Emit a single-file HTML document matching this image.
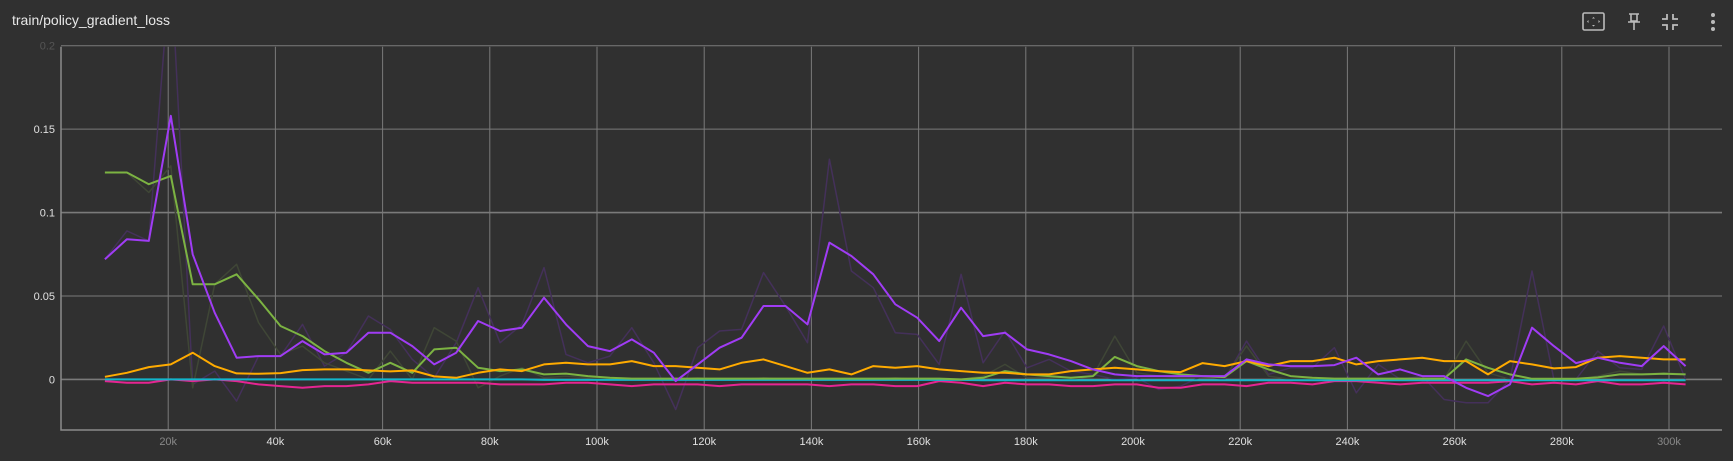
<!DOCTYPE html>
<html><head><meta charset="utf-8"><style>
html,body{margin:0;padding:0;background:#303030;}
body{width:1733px;height:461px;overflow:hidden;position:relative;font-family:"Liberation Sans",sans-serif;}
#title{position:absolute;left:12px;top:12px;color:#e8e8e8;font-size:14px;}
.ic{position:absolute;top:10px;}
</style></head><body>
<div id="title">train/policy_gradient_loss</div>
<svg class="ic" style="left:1581px" width="26" height="24"><rect x="2" y="3" width="21" height="17" rx="1.5" fill="none" stroke="#bbb" stroke-width="1.6"/><path d="M12.5 7l-1.5 1.5h3zM12.5 16.5l-1.5-1.5h3zM6 11.5l1.5-1.5v3zM19 11.5l-1.5-1.5v3z" fill="#bbb"/></svg>
<svg class="ic" style="left:1625px" width="18" height="24"><path d="M4 4h10M6 4v7h6V4M3 12h12M9 12v8" stroke="#bbb" stroke-width="1.6" fill="none"/></svg>
<svg class="ic" style="left:1660px" width="20" height="24"><path d="M7 4v5H2M13 4v5h5M7 20v-5H2M13 20v-5h5" stroke="#bbb" stroke-width="1.8" fill="none"/></svg>
<svg class="ic" style="left:1708px" width="10" height="24"><circle cx="5" cy="5" r="2" fill="#bbb"/><circle cx="5" cy="12" r="2" fill="#bbb"/><circle cx="5" cy="19" r="2" fill="#bbb"/></svg>
<svg id="chart" width="1733" height="461" style="position:absolute;left:0;top:0"></svg>
<script>
const xTicks=[20,40,60,80,100,120,140,160,180,200,220,240,260,280,300];
const yTicks=[0,0.05,0.1,0.15,0.2];
const yTickLabels=["0","0.05","0.1","0.15","0.2"];
const steps=[];for(let i=0;i<73;i++)steps.push(8.192+4.096*i);
const purple=[0.072,0.084,0.083,0.158,0.075,0.040,0.013,0.014,0.014,0.023,0.015,0.016,0.028,0.028,0.020,0.009,0.016,0.035,0.029,0.031,0.049,0.033,0.020,0.017,0.024,0.016,-0.001,0.009,0.019,0.025,0.044,0.044,0.033,0.082,0.074,0.063,0.045,0.037,0.023,0.043,0.026,0.028,0.018,0.015,0.011,0.006,0.003,0.002,0.002,0.002,0.002,0.002,0.012,0.009,0.008,0.008,0.0086,0.013,0.003,0.006,0.002,0.002,-0.005,-0.010,-0.003,0.031,0.020,0.0098,0.013,0.010,0.008,0.020,0.008];
const purpleRaw=[0.072,0.089,0.083,0.25,-0.003,0.005,-0.013,0.014,0.014,0.033,0.008,0.016,0.038,0.030,0.012,0.001,0.022,0.055,0.022,0.033,0.067,0.015,0.010,0.014,0.031,0.010,-0.018,0.019,0.029,0.030,0.064,0.044,0.022,0.132,0.065,0.055,0.028,0.027,0.009,0.063,0.010,0.029,0.007,0.012,0.005,0.003,0.000,0.001,-0.006,-0.004,0.002,0.000,0.023,0.003,0.007,0.007,0.019,-0.008,0.009,0.000,0.002,-0.012,-0.014,-0.014,0.000,0.065,0.000,0.000,0.017,0.007,0.006,0.032,0.000];
const green=[0.124,0.124,0.117,0.122,0.057,0.057,0.063,0.048,0.032,0.026,0.017,0.010,0.004,0.010,0.004,0.018,0.019,0.007,0.005,0.006,0.003,0.0035,0.002,0.001,0.0005,0.0005,0.0005,0.0005,0.0005,0.0005,0.0005,0.0005,0.0005,0.0005,0.0005,0.0005,0.0005,0.0005,0.0005,0.0,0.001,0.005,0.003,0.002,0.001,0.002,0.0135,0.008,0.005,0.003,0.002,0.0014,0.011,0.006,0.002,0.001,0.0005,0.0005,0.0005,0.0005,0.0005,0.0005,0.012,0.007,0.003,0.0004,0.0004,0.0004,0.0012,0.003,0.003,0.0034,0.003];
const greenRaw=[0.124,0.124,0.112,0.128,-0.005,0.057,0.069,0.034,0.015,0.020,0.010,0.005,0.000,0.017,0.000,0.031,0.023,-0.005,0.002,0.007,0.001,0.002,0.001,0.000,0.000,0.000,0.000,0.001,0.000,0.000,0.001,0.000,0.000,0.000,0.000,0.000,0.001,0.000,0.000,0.000,0.002,0.009,0.001,0.001,0.000,0.002,0.026,0.004,0.002,0.001,0.001,0.001,0.020,0.002,0.000,0.000,0.000,0.000,0.000,0.000,0.000,0.000,0.023,0.004,0.000,0.000,0.000,0.000,0.002,0.005,0.003,0.004,0.003];
const orange=[0.0016,0.004,0.0074,0.009,0.016,0.008,0.0036,0.0034,0.0038,0.0056,0.006,0.006,0.0054,0.0048,0.0054,0.0018,0.001,0.004,0.006,0.005,0.009,0.010,0.009,0.009,0.011,0.008,0.008,0.007,0.006,0.010,0.012,0.008,0.004,0.006,0.003,0.008,0.007,0.008,0.006,0.005,0.004,0.004,0.003,0.003,0.005,0.006,0.007,0.006,0.005,0.0044,0.0098,0.008,0.011,0.008,0.011,0.011,0.013,0.009,0.011,0.012,0.013,0.011,0.011,0.003,0.011,0.009,0.0066,0.0074,0.013,0.014,0.013,0.012,0.012];
const pink=[-0.001,-0.002,-0.002,0.000,-0.001,0.000,-0.001,-0.003,-0.004,-0.005,-0.004,-0.004,-0.003,-0.001,-0.002,-0.002,-0.002,-0.002,-0.003,-0.003,-0.003,-0.002,-0.002,-0.003,-0.004,-0.003,-0.003,-0.003,-0.004,-0.003,-0.003,-0.003,-0.003,-0.004,-0.003,-0.003,-0.004,-0.004,-0.001,-0.002,-0.004,-0.002,-0.003,-0.003,-0.004,-0.004,-0.003,-0.003,-0.005,-0.005,-0.003,-0.003,-0.004,-0.002,-0.002,-0.003,-0.001,-0.001,-0.002,-0.003,-0.002,-0.002,-0.002,-0.002,-0.001,-0.003,-0.002,-0.003,-0.001,-0.003,-0.003,-0.002,-0.003];
const cyan=[0,0,0,0,0,0,0,0,0,0,0,0,0,0,0,0,0,0,0,0,-0.0003,-0.0003,-0.0003,-0.0003,-0.0003,-0.0003,-0.0003,-0.0003,-0.0003,-0.0003,-0.0003,-0.0003,-0.0003,-0.0003,-0.0003,-0.0003,-0.0003,-0.0003,-0.0003,-0.0003,-0.0005,-0.0005,-0.0005,-0.0005,-0.0005,-0.0005,-0.0005,-0.0005,-0.0005,-0.0005,-0.0005,-0.0005,-0.0005,-0.0005,-0.0005,-0.0005,-0.0005,-0.0005,-0.0005,-0.0005,-0.0005,-0.0005,-0.0005,-0.0005,-0.0005,-0.0005,-0.0005,-0.0005,-0.0005,-0.0005,-0.0005,-0.0005,-0.0005];

const L=61,R=1722,T=46.7,B=430;
const xMin=0,xMax=(R-L)/107.2*20;
const yMin=-0.0303,yMax=0.1994;
const xs=v=>L+(v-xMin)/(xMax-xMin)*(R-L);
const ys=v=>B-(v-yMin)/(yMax-yMin)*(B-T);
const NS="http://www.w3.org/2000/svg";
const svg=document.getElementById('chart');
function mk(t,a){const e=document.createElementNS(NS,t);for(const k in a)e.setAttribute(k,a[k]);return e;}
const clip=mk('clipPath',{id:'pc'});clip.appendChild(mk('rect',{x:L,y:T,width:R-L,height:B-T}));svg.appendChild(clip);
yTicks.forEach((v,i)=>{
  const g=mk('line',{x1:L,x2:R,y1:ys(v),y2:ys(v),stroke:'#7a7a7a','stroke-width':(v===0||v===0.1)?1.6:1});
  
  
  svg.appendChild(g);
  const t=mk('text',{x:55,y:ys(v)+4,'text-anchor':'end','font-size':'11','font-family':'Liberation Sans, sans-serif',fill:i===4?'#555':'#e0e0e0'});
  t.textContent=yTickLabels[i];
  
  
  svg.appendChild(t);
});
xTicks.forEach((v,i)=>{
  const g=mk('line',{x1:xs(v),x2:xs(v),y1:T,y2:B,stroke:'#7a7a7a','stroke-width':1});
  
  
  svg.appendChild(g);
  const t=mk('text',{x:xs(v),y:445,'text-anchor':'middle','font-size':'11','font-family':'Liberation Sans, sans-serif',fill:(i===0||i===xTicks.length-1)?'#888':'#e0e0e0'});
  t.textContent=v+'k';
  
  
  svg.appendChild(t);
});
const ax=mk('path',{d:`M${L} ${T}V${B}H${R}`,stroke:'#8a8a8a','stroke-width':1.5,fill:'none'});


svg.appendChild(ax);
function line(arr,color,w,name){
  const d=arr.map((v,i)=>(i?'L':'M')+xs(steps[i]).toFixed(1)+' '+ys(v).toFixed(1)).join('');
  const p=mk('path',{d:d,stroke:color,'stroke-width':w,fill:'none','stroke-linejoin':'round','clip-path':'url(#pc)'});
  
  
  svg.appendChild(p);
}
line(purpleRaw,'#44305a',1.5,'purple-raw-line');
line(greenRaw,'#3f4636',1.5,'green-raw-line');
line(pink,'#e52592',2,'pink-series-line');
line(cyan,'#12b5cb',2,'cyan-series-line');
line(green,'#7cb342',2,'green-series-line');
line(orange,'#ffab00',2,'orange-series-line');
line(purple,'#a03cf5',2,'purple-series-line');
</script>
</body></html>
